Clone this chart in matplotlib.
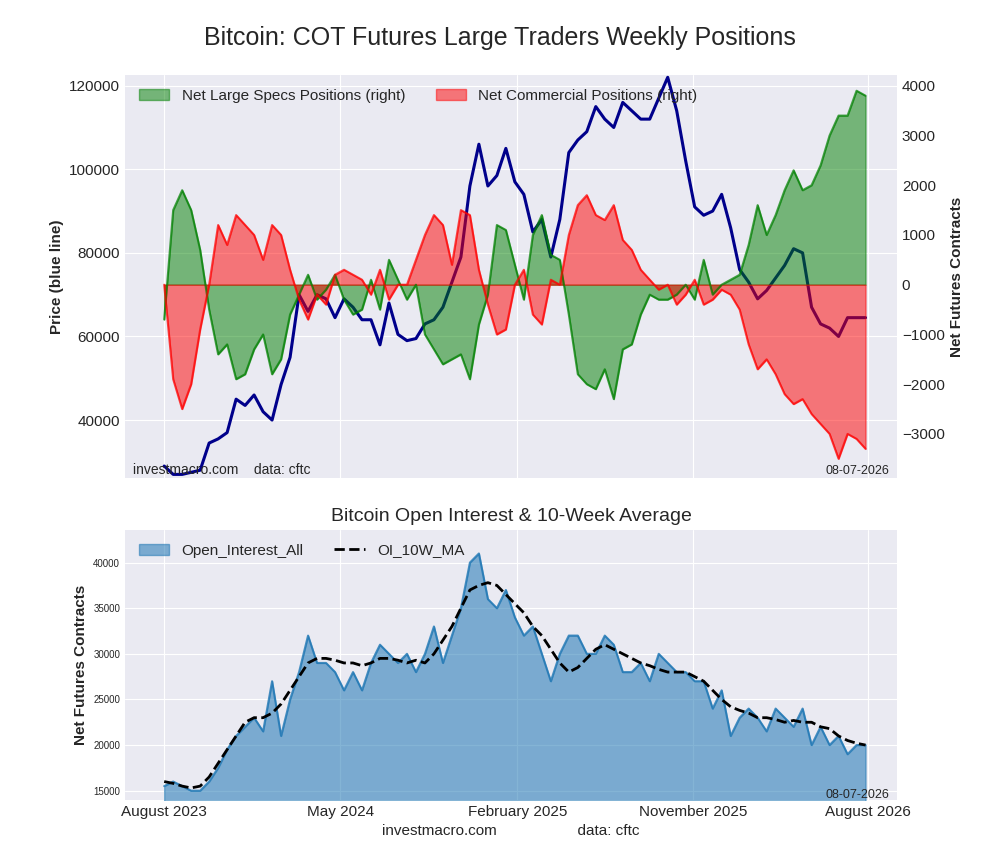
import matplotlib
matplotlib.use("Agg")
import matplotlib.pyplot as plt
import numpy as np
import pandas as pd

plt.style.use("seaborn-v0_8-darkgrid")
plt.rcParams["font.family"] = ["Liberation Sans", "DejaVu Sans"]

# biweekly samples
dates = pd.date_range("2023-08-01", periods=79, freq="14D")

price = [29, 27, 27, 27.5, 28, 34.5, 35.5, 37, 45, 43.5,
         46, 42, 40, 48.5, 55, 70, 66, 70, 69, 64.5,
         69, 67, 64, 64, 58, 68, 60.5, 59, 59.5, 63,
         64, 67, 73, 79, 96, 106, 96, 98.5, 105, 97,
         94, 85, 88, 79, 88, 104, 107, 109, 115, 112,
         110, 116, 114, 112, 112, 117, 122, 114, 102, 91,
         89, 90, 94, 86, 76, 73, 69, 71, 74, 77,
         81, 80, 67, 63, 62, 60, 64.5, 64.5, 64.5]
price = [p * 1000 for p in price]

large_specs = [-700, 1500, 1900, 1500, 700, -500, -1400, -1200, -1900, -1800,
               -1300, -1000, -1800, -1500, -600, -200, 200, -300, -100, 200,
               -300, -600, -500, 100, -500, 500, 100, -300, 0, -1000,
               -1300, -1600, -1500, -1400, -1900, -800, -200, 1200, 1100, 400,
               -300, 1000, 1400, 600, 500, -600, -1800, -2000, -2100, -1700,
               -2300, -1300, -1200, -600, -200, -300, -300, -200, 0, -300,
               500, -200, 0, 100, 200, 800, 1600, 1000, 1400, 1900,
               2300, 1900, 2000, 2400, 3000, 3400, 3400, 3900, 3800]

commercial = [0, -1900, -2500, -2000, -900, 0, 1200, 800, 1400, 1200,
              1000, 500, 1200, 1000, 300, -300, -700, -200, -400, 200,
              300, 200, 100, -200, 300, -300, 0, 0, 500, 1000,
              1400, 1200, 400, 1500, 1400, 300, -400, -1000, -900, 0,
              300, -600, -800, 100, 0, 1000, 1600, 1800, 1400, 1300,
              1600, 900, 700, 300, 100, -100, 0, -400, -200, 100,
              -400, -300, -100, -200, -500, -1200, -1700, -1500, -1800, -2200,
              -2400, -2300, -2600, -2800, -3000, -3500, -3000, -3100, -3300]

open_interest = [15.5, 16, 15.5, 15, 15, 16, 17.5, 19.5, 21, 22,
                 23, 21.5, 27, 21, 25, 28, 32, 29, 29, 28,
                 26, 28, 26, 29, 31, 30, 29, 30, 28, 30,
                 33, 29, 32, 35, 40, 41, 36, 35, 37, 34,
                 32, 33, 30, 27, 30, 32, 32, 30, 30, 32,
                 31, 28, 28, 29, 27, 30, 29, 28, 28, 27,
                 27, 24, 26, 21, 23, 24, 23, 21.5, 24, 23,
                 22, 24, 20, 22, 20, 21, 19, 20, 20]
open_interest = [v * 1000 for v in open_interest]

oi_ma = [16, 15.8, 15.5, 15.3, 15.5, 16.5, 18, 19.5, 21, 22.5,
         23, 23, 23.5, 24.5, 26, 27.5, 29, 29.5, 29.5, 29.3,
         29, 29, 28.7, 29, 29.5, 29.5, 29.3, 29, 29.3, 29,
         30, 31.5, 33, 35, 37, 37.5, 37.8, 37.5, 36.5, 35.5,
         34.5, 33, 32, 30.5, 29, 28, 28.5, 29.5, 30.5, 31,
         30.5, 30, 29.5, 29, 28.7, 28.3, 28, 28, 28, 27.5,
         27, 26, 25, 24.2, 23.8, 23.5, 23, 23, 22.8, 22.5,
         22.7, 22.5, 22.5, 22, 21.8, 21, 20.5, 20.2, 20]
oi_ma = [v * 1000 for v in oi_ma]

fig = plt.figure(figsize=(10, 8.6), dpi=100)
ax = fig.add_axes([0.125, 0.444, 0.772, 0.469])
ax_b = fig.add_axes([0.125, 0.07, 0.772, 0.314], sharex=ax)

fig.suptitle("Bitcoin: COT Futures Large Traders Weekly Positions",
             fontsize=18, y=0.97)

# top panel: price + net positions
ax.plot(dates, price, color="darkblue", lw=2.2)
ax.set_ylim(26100, 122600)
ax.set_ylabel("Price (blue line)", fontsize=11, fontweight="bold")
ax.tick_params(axis="y", labelsize=11)
plt.setp(ax.get_xticklabels(), visible=False)

ax2 = ax.twinx()
ax2.grid(False)
ax2.fill_between(dates, 0, large_specs, color="green", alpha=0.5,
                 label="Net Large Specs Positions (right)")
ax2.plot(dates, large_specs, color="green", alpha=0.7, lw=1.5)
ax2.fill_between(dates, 0, commercial, color="red", alpha=0.5,
                 label="Net Commercial Positions (right)")
ax2.plot(dates, commercial, color="red", alpha=0.7, lw=1.5)
ax2.set_ylim(-3890, 4220)
ax2.set_ylabel("Net Futures Contracts", fontsize=11, fontweight="bold")
ax2.tick_params(axis="y", labelsize=11)
ax2.legend(loc="upper left", ncol=2, fontsize=11, frameon=False)
ax.text(0.01, 0.01, "investmacro.com    data: cftc", transform=ax.transAxes,
        fontsize=10)
ax.text(0.99, 0.01, "08-07-2026", transform=ax.transAxes, fontsize=9,
        ha="right")

# bottom panel: open interest
ax_b.fill_between(dates, 0, open_interest, color="#1f77b4", alpha=0.55,
                  label="Open_Interest_All")
ax_b.plot(dates, open_interest, color="#1f77b4", alpha=0.8, lw=1.5)
ax_b.plot(dates, oi_ma, "k--", lw=2, label="OI_10W_MA")
ax_b.set_ylim(14000, 43600)
ax_b.set_title("Bitcoin Open Interest & 10-Week Average", fontsize=14)
ax_b.set_ylabel("Net Futures Contracts", fontsize=11, fontweight="bold")
ax_b.tick_params(axis="y", labelsize=7)
ax_b.tick_params(axis="x", labelsize=11)
ax_b.legend(loc="upper left", ncol=2, fontsize=11, frameon=False)
ax_b.text(0.99, 0.005, "08-07-2026", transform=ax_b.transAxes, fontsize=9,
          ha="right")
ticks = pd.to_datetime(["2023-08-01", "2024-05-01", "2025-02-01",
                        "2025-11-01", "2026-08-01"])
ax_b.set_xticks(ticks)
ax_b.set_xticklabels([t.strftime("%B %Y") for t in ticks])
ax_b.set_xlim(pd.Timestamp("2023-06-01"), pd.Timestamp("2026-09-15"))
ax_b.set_xlabel("investmacro.com                   data: cftc", fontsize=11)

fig.savefig("out.png", dpi=100)
